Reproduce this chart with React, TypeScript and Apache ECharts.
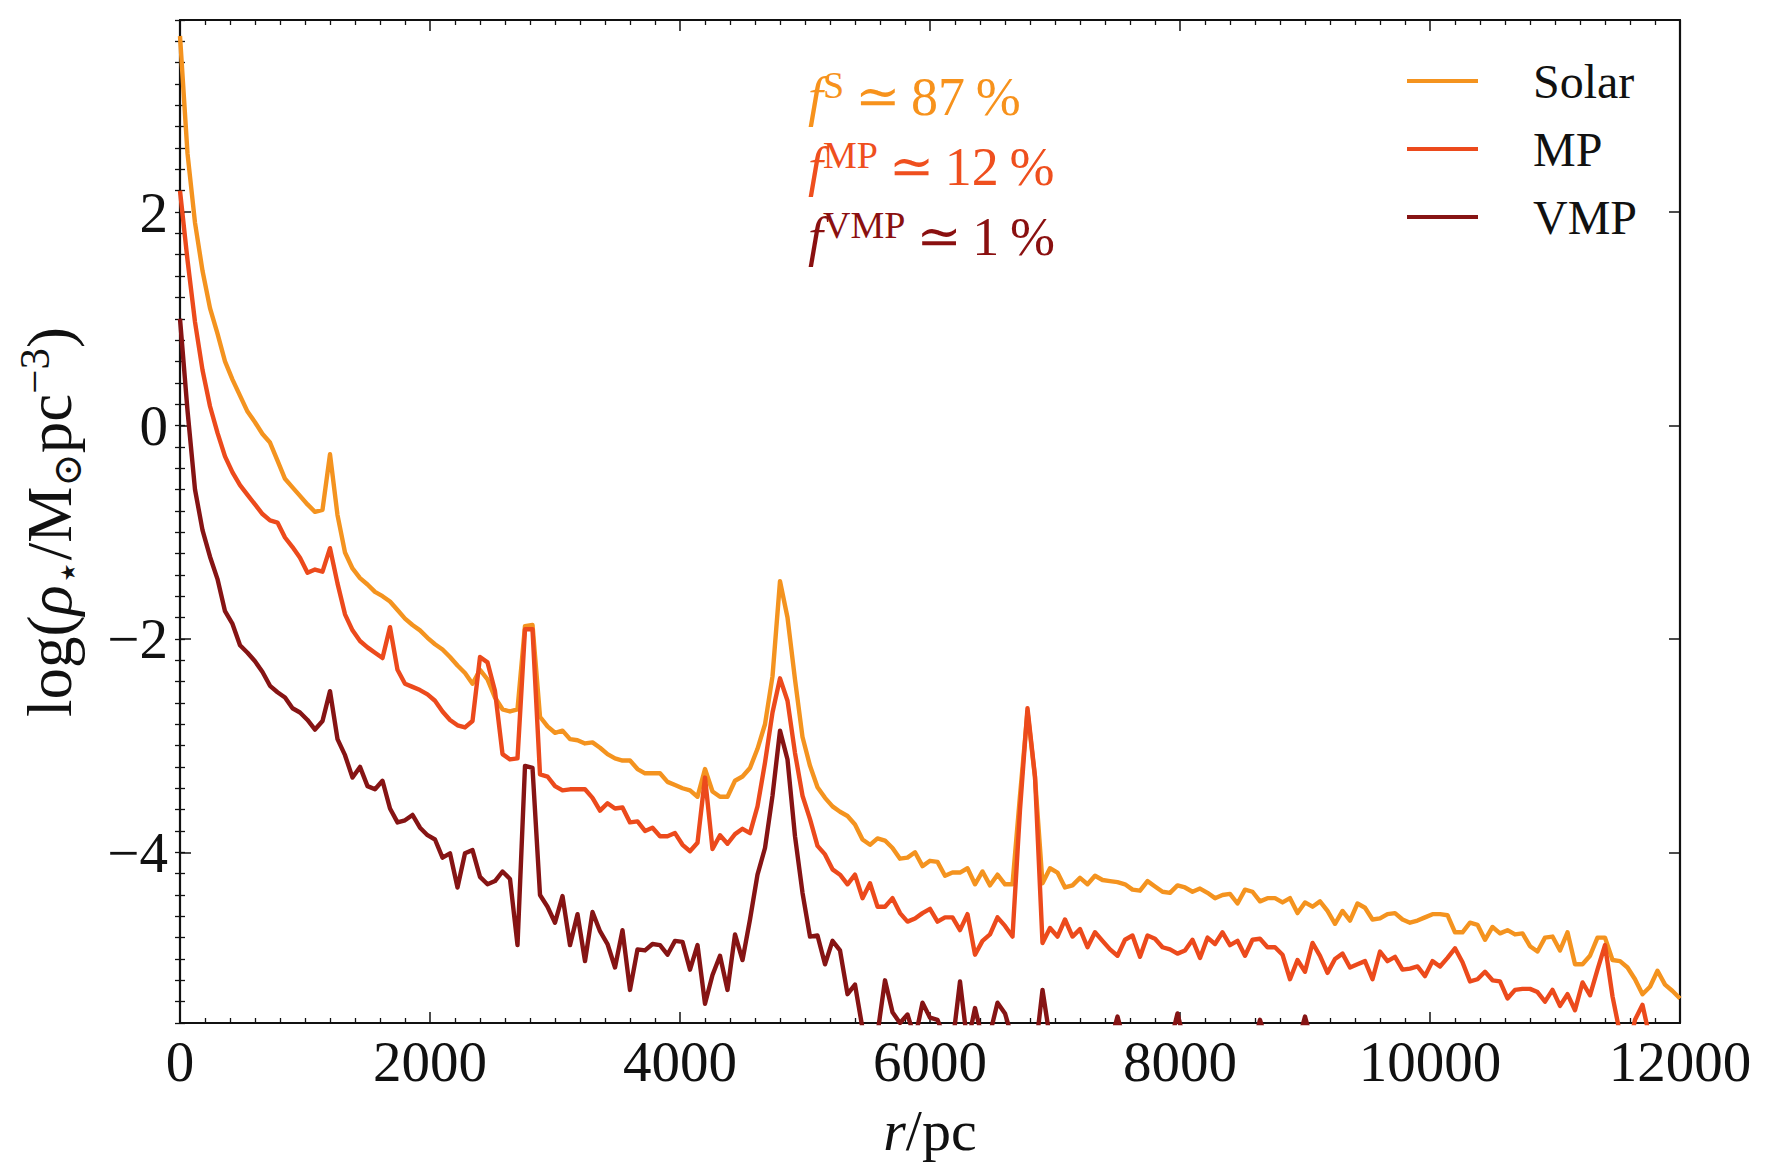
import React, { useEffect, useRef } from "react";
import * as echarts from "echarts";

// radial bin spacing (pc)
const R_STEP = 60;

// log(rho) per 60 pc bin, r = 0 ... 12000 pc
const solar = [
  3.65, 2.55, 1.9, 1.45, 1.1, 0.86, 0.6, 0.43, 0.28, 0.13,
  0.03, -0.08, -0.16, -0.33, -0.5, -0.58, -0.66, -0.74, -0.81, -0.79,
  -0.27, -0.84, -1.19, -1.34, -1.43, -1.49, -1.56, -1.6, -1.65, -1.73,
  -1.81, -1.87, -1.92, -1.99, -2.05, -2.1, -2.17, -2.25, -2.32, -2.42,
  -2.29, -2.38, -2.55, -2.66, -2.68, -2.66, -1.88, -1.87, -2.73, -2.82,
  -2.88, -2.86, -2.94, -2.95, -2.98, -2.97, -3.02, -3.08, -3.12, -3.14,
  -3.14, -3.22, -3.26, -3.26, -3.26, -3.34, -3.37, -3.4, -3.42, -3.48,
  -3.22, -3.43, -3.48, -3.48, -3.33, -3.29, -3.21, -3.03, -2.8, -2.35,
  -1.46, -1.8, -2.38, -2.92, -3.19, -3.39, -3.49, -3.57, -3.62, -3.66,
  -3.74, -3.88, -3.93, -3.87, -3.89, -3.96, -4.06, -4.05, -4.0, -4.13,
  -4.08, -4.09, -4.22, -4.19, -4.19, -4.15, -4.3, -4.18, -4.31, -4.21,
  -4.3, -4.3, -3.47, -2.68, -3.3, -4.29, -4.15, -4.19, -4.33, -4.31,
  -4.24, -4.3, -4.22, -4.26, -4.27, -4.28, -4.3, -4.35, -4.36, -4.27,
  -4.32, -4.37, -4.38, -4.31, -4.33, -4.37, -4.34, -4.38, -4.43, -4.4,
  -4.39, -4.48, -4.35, -4.37, -4.46, -4.43, -4.43, -4.47, -4.43, -4.57,
  -4.47, -4.51, -4.46, -4.55, -4.67, -4.55, -4.64, -4.48, -4.52, -4.63,
  -4.62, -4.58, -4.57, -4.63, -4.66, -4.64, -4.61, -4.58, -4.58, -4.59,
  -4.75, -4.75, -4.66, -4.68, -4.82, -4.7, -4.76, -4.73, -4.77, -4.76,
  -4.88, -4.93, -4.8, -4.79, -4.92, -4.75, -5.05, -5.05, -4.97, -4.8,
  -4.8, -5.01, -5.02, -5.08, -5.19, -5.33, -5.26, -5.11, -5.24, -5.3,
  -5.37,
];

const metalPoor = [
  2.2, 1.55, 0.97, 0.52, 0.18, -0.07, -0.29, -0.44, -0.56, -0.65,
  -0.74, -0.83, -0.89, -0.91, -1.05, -1.14, -1.24, -1.38, -1.35, -1.37,
  -1.15, -1.48, -1.77, -1.92, -2.02, -2.08, -2.13, -2.18, -1.89, -2.29,
  -2.42, -2.45, -2.48, -2.52, -2.58, -2.68, -2.76, -2.81, -2.83, -2.77,
  -2.17, -2.22, -2.49, -3.08, -3.13, -3.12, -1.91, -1.91, -3.27, -3.29,
  -3.38, -3.42, -3.41, -3.41, -3.41, -3.49, -3.61, -3.54, -3.59, -3.58,
  -3.72, -3.71, -3.8, -3.77, -3.85, -3.85, -3.82, -3.93, -3.99, -3.91,
  -3.3, -3.97, -3.84, -3.92, -3.83, -3.78, -3.82, -3.57, -3.16, -2.69,
  -2.37, -2.58, -3.07, -3.47, -3.69, -3.94, -4.02, -4.16, -4.21, -4.3,
  -4.21, -4.43, -4.29, -4.51, -4.51, -4.43, -4.57, -4.65, -4.62, -4.57,
  -4.53, -4.65, -4.61, -4.61, -4.73, -4.58, -4.96, -4.83, -4.77, -4.61,
  -4.69, -4.79, -3.6, -2.65, -3.29, -4.85, -4.71, -4.79, -4.63, -4.79,
  -4.72, -4.89, -4.75, -4.83, -4.91, -4.97, -4.82, -4.78, -4.98, -4.78,
  -4.81, -4.89, -4.91, -4.95, -4.92, -4.82, -4.99, -4.8, -4.86, -4.75,
  -4.87, -4.83, -4.97, -4.82, -4.81, -4.89, -4.89, -4.96, -5.19, -5.01,
  -5.12, -4.85, -4.97, -5.13, -5.0, -4.95, -5.08, -5.05, -5.02, -5.19,
  -4.93, -5.02, -4.98, -5.1, -5.09, -5.07, -5.16, -5.02, -5.07, -4.99,
  -4.9, -5.03, -5.21, -5.19, -5.12, -5.2, -5.21, -5.37, -5.29, -5.28,
  -5.28, -5.31, -5.4, -5.29, -5.44, -5.33, -5.48, -5.22, -5.34, -5.1,
  -4.87, -5.35, -5.7, -5.9, -5.57, -5.43, -5.75, -5.95, -6.0, -6.0,
  -6.0,
];

const veryMetalPoor = [
  1.0, 0.14, -0.6, -0.98, -1.23, -1.44, -1.74, -1.86, -2.06, -2.13,
  -2.21, -2.31, -2.44, -2.5, -2.55, -2.65, -2.69, -2.76, -2.85, -2.77,
  -2.49, -2.94, -3.09, -3.3, -3.2, -3.38, -3.41, -3.33, -3.59, -3.72,
  -3.7, -3.65, -3.77, -3.84, -3.88, -4.05, -4.01, -4.33, -4.01, -3.98,
  -4.23, -4.3, -4.27, -4.18, -4.25, -4.87, -3.19, -3.21, -4.4, -4.51,
  -4.66, -4.41, -4.87, -4.58, -5.02, -4.56, -4.74, -4.86, -5.08, -4.73,
  -5.29, -4.91, -4.92, -4.86, -4.87, -4.96, -4.83, -4.84, -5.1, -4.87,
  -5.42, -5.15, -4.97, -5.29, -4.77, -5.01, -4.63, -4.21, -3.96, -3.47,
  -2.86, -3.13, -3.85, -4.38, -4.79, -4.78, -5.05, -4.83, -4.92, -5.33,
  -5.24, -5.65, -5.75, -5.7, -5.2, -5.5, -5.6, -5.52, -5.75, -5.41,
  -5.55, -5.57, -5.75, -5.8, -5.21, -5.8, -5.46, -5.75, -5.7, -5.41,
  -5.51, -5.75, -5.9, -5.9, -5.9, -5.29, -5.75, -5.85, -5.8, -5.85,
  -5.8, -5.85, -5.8, -5.85, -5.8, -5.54, -5.8, -5.85, -5.8, -5.85,
  -5.8, -5.85, -5.8, -5.51, -5.8, -5.85, -5.8, -5.85, -5.8, -5.85,
  -5.8, -5.85, -5.8, -5.85, -5.57, -5.8, -5.85, -5.8, -5.85, -5.8,
  -5.54, -5.8, -5.85, -5.8, -5.85, -5.8, -5.85, -5.8, -5.85, -5.8,
  -5.85, -5.8, -5.9, -5.85, -5.8, -5.9, -5.85, -5.8, -5.9, -5.85,
  -5.8, -5.9, -5.85, -5.8, -5.9, -5.85, -5.95, -5.9, -5.85, -5.95,
  -5.9, -5.85, -5.95, -5.9, -6.0, -5.9, -5.95, -6.0, -5.9, -5.95,
  -6.0, -5.95, -6.0, -6.05, -6.0, -6.05, -6.1, -6.0, -6.05, -6.1,
  -6.1,
];

const seriesNames = ["Solar", "MP", "VMP"];
const seriesColors = ["#F4931F", "#EC4A1C", "#861414"];
const textColors = ["#F7921C", "#EF4F1E", "#8A1010"];
const fractionLabels = ["S", "MP", "VMP"];
const fractionValues = ["87", "12", "1"];

const yMajorTicks = [-4, -2, 0, 2];

const SERIF = "'Liberation Serif', 'DejaVu Serif', serif";

function toPairs(values: number[]) {
  return values.map((v, i) => [i * R_STEP, v]);
}

function fmtY(v: number) {
  if (v < 0) return "\u2212" + Math.abs(v);
  return String(v);
}

export default function App() {
  const ref = useRef<HTMLDivElement>(null);

  useEffect(() => {
    if (!ref.current) return;
    const chart = echarts.init(ref.current, null, { renderer: "svg" });

    const axisLine = { show: true, onZero: false, lineStyle: { color: "#111", width: 2.2 } };
    const majorTick = { show: true, inside: true, length: 11, lineStyle: { color: "#111", width: 1.5 } };
    const minorTickStyle = { color: "#111", width: 1.3 };

    const xAxisBase = {
      type: "value",
      min: 0,
      max: 12000,
      interval: 2000,
      axisLine,
      axisTick: majorTick,
      minorTick: { show: true, splitNumber: 10, length: 5, lineStyle: minorTickStyle },
      splitLine: { show: false },
      minorSplitLine: { show: false },
    };

    const yMajorBase = {
      type: "value",
      min: -5.6,
      max: 3.8,
      axisLine,
      axisTick: { ...majorTick, customValues: yMajorTicks },
      splitLine: { show: false },
    };
    const yMinorBase = {
      type: "value",
      min: -5.6,
      max: 3.8,
      interval: 0.2,
      axisLine: { show: false },
      axisTick: { show: true, inside: true, length: 5, lineStyle: minorTickStyle },
      axisLabel: { show: false },
      splitLine: { show: false },
    };

    const annotations = fractionLabels.map((lab, i) => ({
      type: "text",
      x: 808,
      y: 97 + i * 70,
      z: 10,
      style: {
        text: `{f|f}{s|${lab}}{t|\u2009\u2243\u2009${fractionValues[i]}\u2009%}`,
        fill: textColors[i],
        align: "left",
        verticalAlign: "middle",
        rich: {
          f: { fontFamily: SERIF, fontStyle: "italic", fontSize: 54, lineHeight: 62, fill: textColors[i] },
          s: { fontFamily: SERIF, fontSize: 38, lineHeight: 38, verticalAlign: "top", fill: textColors[i] },
          t: { fontFamily: SERIF, fontSize: 54, lineHeight: 62, fill: textColors[i] },
        },
      },
    }));

    const option = {
      animation: false,
      backgroundColor: "#ffffff",
      grid: { left: 180, right: 92, top: 20, bottom: 153, containLabel: false },
      legend: {
        orient: "vertical",
        left: 1402,
        top: 52,
        icon: "rect",
        itemWidth: 71,
        itemHeight: 4,
        itemGap: 20,
        data: seriesNames,
        textStyle: {
          fontFamily: SERIF,
          fontSize: 48,
          color: "#111",
          padding: [0, 0, 0, 50],
        },
      },
      xAxis: [
        {
          ...xAxisBase,
          position: "bottom",
          axisLabel: {
            show: true,
            formatter: (v: number) => String(v),
            fontFamily: SERIF,
            fontSize: 57,
            color: "#111",
            margin: 10,
          },
        },
        { ...xAxisBase, position: "top", axisLabel: { show: false } },
      ],
      yAxis: [
        {
          ...yMajorBase,
          position: "left",
          axisLabel: {
            show: true,
            customValues: yMajorTicks,
            formatter: fmtY,
            fontFamily: SERIF,
            fontSize: 57,
            color: "#111",
            margin: 12,
          },
        },
        { ...yMinorBase, position: "left" },
        { ...yMajorBase, position: "right", axisLabel: { show: false } },
        { ...yMinorBase, position: "right" },
      ],
      series: [solar, metalPoor, veryMetalPoor].map((vals, i) => ({
        name: seriesNames[i],
        type: "line",
        xAxisIndex: 0,
        yAxisIndex: 0,
        data: toPairs(vals),
        symbol: "none",
        clip: true,
        lineStyle: { color: seriesColors[i], width: 4.4, join: "round" },
        itemStyle: { color: seriesColors[i] },
        z: 2 + i,
      })),
      graphic: [
        ...annotations,
        {
          type: "text",
          x: 50,
          y: 522,
          rotation: Math.PI / 2,
          style: {
            text: "{n|log(}{i|\u03C1}{b|\u22C6}{n|/M}{b|\u2299}{n|pc}{p|\u22123}{n|)}",
            align: "center",
            verticalAlign: "middle",
            fill: "#111",
            rich: {
              n: { fontFamily: SERIF, fontSize: 63, lineHeight: 74, fill: "#111" },
              i: { fontFamily: SERIF, fontStyle: "italic", fontSize: 63, lineHeight: 74, fill: "#111" },
              b: { fontFamily: "'DejaVu Serif', serif", fontSize: 40, lineHeight: 44, verticalAlign: "bottom", fill: "#111" },
              p: { fontFamily: SERIF, fontSize: 43, lineHeight: 43, verticalAlign: "top", fill: "#111" },
            },
          },
        },
        {
          type: "text",
          x: 930,
          y: 1130,
          style: {
            text: "{i|r}{n|/pc}",
            align: "center",
            verticalAlign: "middle",
            fill: "#111",
            rich: {
              n: { fontFamily: SERIF, fontSize: 58, fill: "#111" },
              i: { fontFamily: SERIF, fontStyle: "italic", fontSize: 58, fill: "#111" },
            },
          },
        },
      ],
    };

    chart.setOption(option as any);
    return () => chart.dispose();
  }, []);

  return (
    <div
      ref={ref}
      style={{ position: "fixed", left: 0, top: 0, width: 1772, height: 1176, background: "#fff" }}
    />
  );
}
